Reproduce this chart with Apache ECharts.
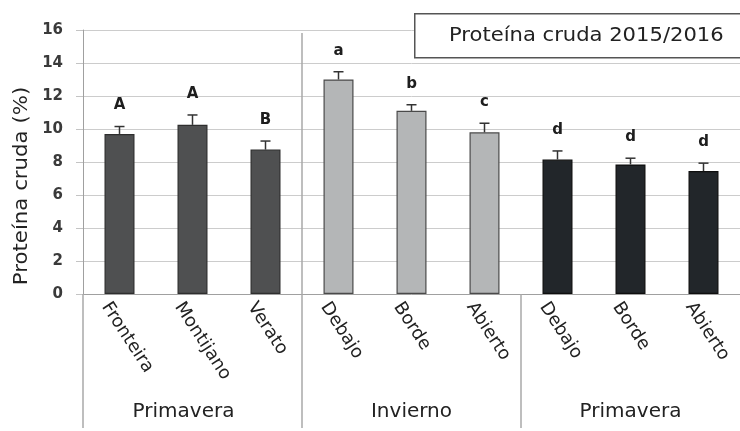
<!DOCTYPE html>
<html>
<head>
<meta charset="utf-8">
<script src="https://cdn.jsdelivr.net/npm/echarts@6/dist/echarts.min.js"></script>
<style>html,body{margin:0;padding:0;background:#fff;}#c{width:740px;height:431px;}</style>
</head>
<body>
<div id="c"></div>
<script>
const categories = ['Fronteira','Montijano','Verato','Debajo','Borde','Abierto','Debajo','Borde','Abierto'];
const values = [9.7, 10.25, 8.75, 13.0, 11.1, 9.8, 8.15, 7.85, 7.45];
const errors = [0.45, 0.6, 0.52, 0.47, 0.37, 0.55, 0.52, 0.38, 0.48];
const letters = ['A','A','B','a','b','c','d','d','d'];
const groupNames = ['Primavera','Invierno','Primavera'];
const groupSizes = [3,3,3];
const groupFill = ['#4f5051','#b4b6b7','#22262a'];
const groupBorder = ['#2e2e2e','#4a4a4a','#0e0e0e'];
const yTicks = [0,2,4,6,8,10,12,14,16];
const titleText = 'Proteína cruda 2015/2016';
const yName = 'Proteína cruda (%)';

const FONT = 'DejaVu Sans';
const groupOf = [];
groupSizes.forEach((n,g)=>{for(let k=0;k<n;k++) groupOf.push(g);});

const barData = values.map((v,i)=>({
  value: v,
  itemStyle: {color: groupFill[groupOf[i]], borderColor: groupBorder[groupOf[i]], borderWidth: 1.2}
}));

const groupStarts = [];
let acc = 0;
groupSizes.forEach(n=>{groupStarts.push(acc); acc += n;});

const chart = echarts.init(document.getElementById('c'), null, {renderer:'canvas'});
chart.setOption({
  animation: false,
  backgroundColor: '#ffffff',
  grid: {left: 83, right: -7, top: 30, bottom: 137, containLabel: false},
  xAxis: {
    type: 'category',
    data: categories,
    axisLine: {show: true, lineStyle: {color: '#a0a0a0', width: 1}},
    axisTick: {show: false},
    axisLabel: {show: false},
    splitLine: {show: false}
  },
  yAxis: {
    type: 'value',
    min: yTicks[0], max: yTicks[yTicks.length-1], interval: 2,
    axisLine: {show: true, lineStyle: {color: '#a0a0a0', width: 1}},
    axisTick: {show: true, length: 7, lineStyle: {color: '#c4c4c4'}},
    axisLabel: {fontFamily: FONT, fontSize: 15, fontWeight: 'bold', color: '#3a3a3a', margin: 20},
    splitLine: {show: true, lineStyle: {color: '#cccccc', width: 1}}
  },
  graphic: [
    {type: 'rect', left: 414, top: 13, z: 100, shape: {x: 0, y: 0, width: 340, height: 44},
     style: {fill: '#ffffff', stroke: '#555555', lineWidth: 1.5}},
    {type: 'text', x: 449, y: 36, z: 101, scaleX: 1.11,
     style: {text: titleText, fontFamily: FONT, fontSize: 19, fill: '#222222', verticalAlign: 'middle', align: 'left'}},
    {type: 'text', x: 22, y: 186, rotation: Math.PI/2, scaleX: 1.12, z: 101,
     style: {text: yName, fontFamily: FONT, fontSize: 19, fill: '#222222', verticalAlign: 'middle', align: 'center'}}
  ],
  series: [
    {
      type: 'bar',
      data: barData,
      barWidth: 30,
      z: 2
    },
    {
      type: 'custom',
      clip: false,
      z: 3,
      data: values.map((v,i)=>[i, v]),
      encode: {x: 0, y: 1},
      renderItem: function(params, api){
        const i = params.dataIndex;
        const base = api.coord([i, values[i]]);
        const top = api.coord([i, values[i] + errors[i]]);
        const cap = 5;
        return {type: 'group', children: [
          {type: 'line', shape: {x1: base[0], y1: base[1], x2: top[0], y2: top[1]}, style: {stroke: '#333333', lineWidth: 1.5}},
          {type: 'line', shape: {x1: top[0]-cap, y1: top[1], x2: top[0]+cap, y2: top[1]}, style: {stroke: '#333333', lineWidth: 1.5}},
          {type: 'text', x: top[0], y: top[1] - 21,
           style: {text: letters[i], fontFamily: FONT, fontSize: 15, fontWeight: 'bold', fill: '#1e1e1e', align: 'center', verticalAlign: 'middle'}}
        ]};
      }
    },
    {
      type: 'custom',
      clip: false,
      z: 3,
      data: categories.map((c,i)=>[i, 0]),
      encode: {x: 0, y: 1},
      renderItem: function(params, api){
        const i = params.dataIndex;
        const p = api.coord([i, 0]);
        return {type: 'text', x: p[0] - 14, y: p[1] + 10, rotation: -57*Math.PI/180,
          style: {text: categories[i], fontFamily: FONT, fontSize: 18, fill: '#222222', align: 'left', verticalAlign: 'middle'}};
      }
    },
    {
      type: 'custom',
      clip: false,
      z: 3,
      data: groupNames.map((g,k)=>[groupStarts[k], 0]),
      encode: {x: 0, y: 1},
      renderItem: function(params, api){
        const k = params.dataIndex;
        const s = groupStarts[k];
        const e = s + groupSizes[k] - 1;
        const bw = api.size([1, 0])[0];
        const p0 = api.coord([s, 0]);
        const p1 = api.coord([e, 0]);
        const left = p0[0] - bw/2;
        const cx = (p0[0] + p1[0]) / 2 - (k === 0 ? 9 : 0);
        const topY = (k === 1) ? api.coord([s, 16])[1] + 3 : p0[1];
        const children = [
          {type: 'line', shape: {x1: left, y1: topY, x2: left, y2: p0[1] + 134}, style: {stroke: '#a8a8a8', lineWidth: 1.5}},
          {type: 'text', x: cx, y: p0[1] + 118,
           style: {text: groupNames[k], fontFamily: FONT, fontSize: 20, fill: '#222222', align: 'center', verticalAlign: 'middle'}}
        ];
        return {type: 'group', children: children};
      }
    }
  ]
});
</script>
</body>
</html>
